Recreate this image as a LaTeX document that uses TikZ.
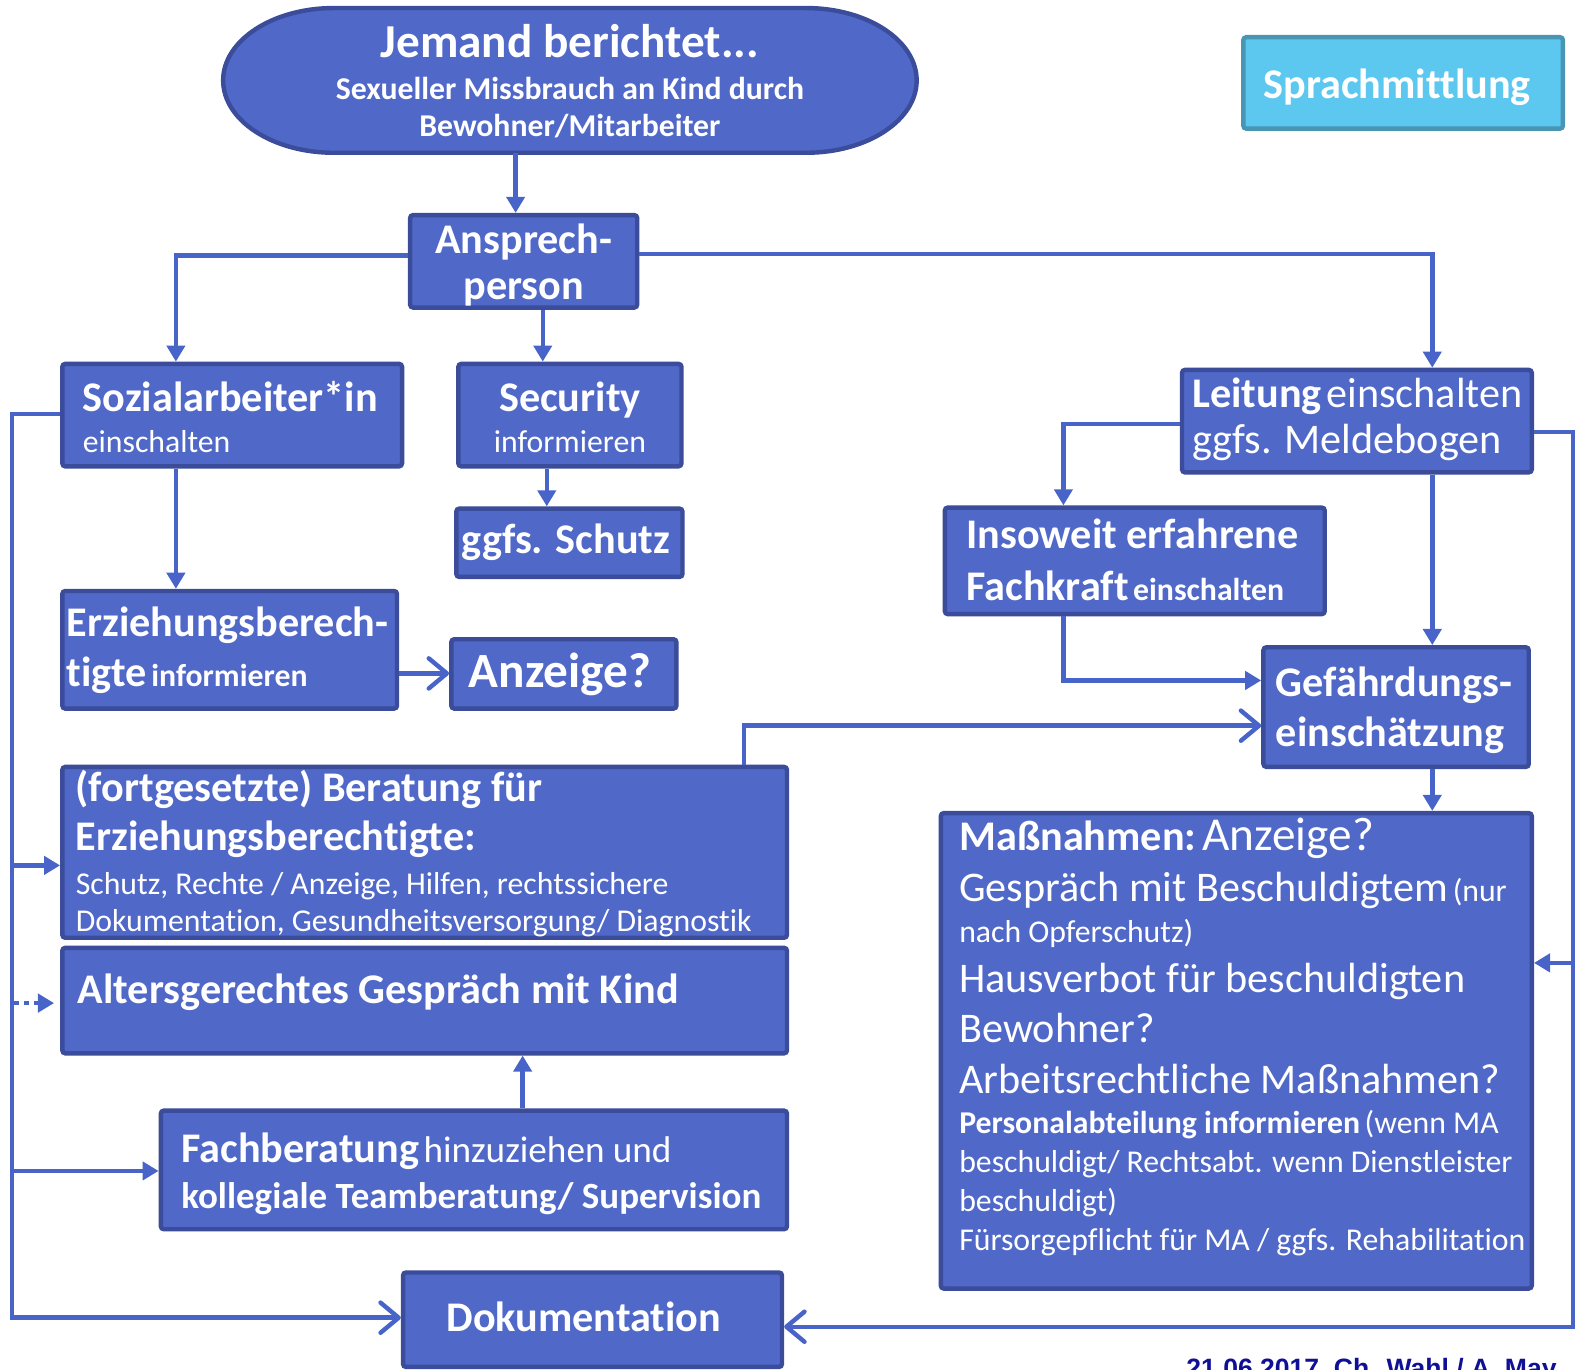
\documentclass[tikz,border=0pt]{standalone}
\usepackage{fontspec}
\setmainfont[Ligatures=NoCommon]{Carlito}
\newfontfamily\arialfont{Liberation Sans}
\usetikzlibrary{arrows.meta,fit,calc}
\definecolor{boxfill}{RGB}{80,104,200}
\definecolor{boxdraw}{RGB}{58,76,154}
\definecolor{conncol}{RGB}{72,100,200}
\definecolor{skyfill}{RGB}{92,200,240}
\definecolor{skydraw}{RGB}{72,150,180}
\definecolor{footcol}{RGB}{16,16,150}
\newcommand\FTb{\fontsize{21}{25}\selectfont\bfseries}
\newcommand\FTr{\fontsize{21}{25}\selectfont}
\newcommand\FSr{\fontsize{15.8}{19}\selectfont}
\newcommand\FSb{\fontsize{15.8}{19}\selectfont\bfseries}
\newcommand\FMr{\fontsize{18.5}{22}\selectfont}
\newcommand\FMb{\fontsize{18.4}{22}\selectfont\bfseries}
\begin{document}
\begin{tikzpicture}[x=0.5pt,y=-0.5pt,
  box/.style={draw=boxdraw, fill=boxfill, line width=2.2pt, inner sep=0pt, rectangle, rounded corners=1.5pt},
  conn/.style={draw=conncol, line width=2.2pt},
  tri/.style={-{Triangle[length=8pt,width=9pt]}},
  barb/.style={-{Straight Barb[length=9pt,width=15pt,round]}},
  txt/.style={inner sep=0pt, text=white, anchor=base west},
  ctxt/.style={inner sep=0pt, text=white, anchor=base}]
\fill[white] (0,0) rectangle (1568,1363);
\clip (0,0) rectangle (1568,1363);

% stadium
\node[inner sep=0pt, fit={(222,8)(912,152)}] (ell) {};
\draw[draw=boxdraw, fill=boxfill, line width=2.2pt]
  (332,8) -- (802,8) .. controls (862.75,8) and (912,40.2) .. (912,80)
  .. controls (912,119.8) and (862.75,152) .. (802,152) -- (332,152)
  .. controls (271.25,152) and (222,119.8) .. (222,80)
  .. controls (222,40.2) and (271.25,8) .. (332,8) -- cycle;

\node[box, draw=skydraw, fill=skyfill, fit={(1237,37)(1555,128)}] (spr) {};
\node[box, fit={(408,214)(634,306)}] (ans) {};
\node[box, fit={(62,362)(400,464)}] (soz) {};
\node[box, fit={(456,362)(678,464)}] (sec) {};
\node[box, fit={(454,506)(679,574)}] (sch) {};
\node[box, fit={(62,588)(395,705)}] (erz) {};
\node[box, fit={(449,636)(673,705)}] (anz) {};
\node[box, fit={(62,763)(783,933)}] (ber) {};
\node[box, fit={(62,943)(783,1048)}] (alt) {};
\node[box, fit={(160,1105)(783,1223)}] (fach) {};
\node[box, fit={(401,1266)(778,1360)}] (dok) {};
\node[box, fit={(1176,368)(1524,470)}] (lei) {};
\node[box, fit={(940,505)(1318,611)}] (ins) {};
\node[box, fit={(1257,644)(1521,763)}] (gef) {};
\node[box, fit={(936,809)(1524,1282)}] (mas) {};

% texts
\node[ctxt, font=\fontsize{23.5}{28}\selectfont\bfseries] (t1) at (567,57) {Jemand berichtet...};
\node[ctxt, font=\FSb] (t2) at (567,99) {Sexueller Missbrauch an Kind durch};
\node[ctxt, font=\FSb] (t3) at (567,136) {Bewohner/Mitarbeiter};
\node[ctxt, font=\FTb] (t4) at (1390,98) {Sprachmittlung};
\node[ctxt, font=\FTb] (t5) at (521,252) {Ansprech-};
\node[ctxt, font=\FTb] (t6) at (521,298) {person};
\node[txt, font=\FTb] (t7) at (82,409) {Sozialarbeiter*in};
\node[txt, font=\FSr] (t8) at (82,450) {einschalten};
\node[ctxt, font=\FTb] (t9) at (567,409) {Security};
\node[ctxt, font=\FSr] (t10) at (567,450) {informieren};
\node[txt, font=\FTb] (t11) at (459,551) {ggfs. Schutz};
\node[txt, font=\FTb] (t12) at (66,633) {Erziehungsberech-};
\node[txt] (t13) at (66,683) {{\FTb tigte} {\FSb informieren}};
\node[txt, font=\fontsize{24.5}{29}\selectfont\bfseries] (t14) at (466,684) {Anzeige?};
\node[txt, font=\FTb] (t15) at (75,797) {(fortgesetzte) Beratung für};
\node[txt, font=\FTb] (t16) at (75,846) {Erziehungsberechtigte:};
\node[txt, font=\FSr] (t17) at (75,890) {Schutz, Rechte / Anzeige, Hilfen, rechtssichere};
\node[txt, font=\FSr] (t18) at (75,927) {Dokumentation, Gesundheitsversorgung/ Diagnostik};
\node[txt, font=\FTb] (t19) at (77,998) {Altersgerechtes Gespräch mit Kind};
\node[txt] (t20) at (180,1157) {{\FTb Fachberatung} {\FMr hinzuziehen und}};
\node[txt, font=\FMb] (t21) at (180,1202) {kollegiale Teamberatung/ Supervision};
\node[ctxt, font=\FTb] (t22) at (581,1325) {Dokumentation};
\node[txt] (t23) at (1186,405) {{\FTb Leitung} {\FTr einschalten}};
\node[txt, font=\FTr] (t24) at (1186,451) {ggfs. Meldebogen};
\node[txt, font=\FTb] (t25) at (961,546) {Insoweit erfahrene};
\node[txt] (t26) at (961,597) {{\FTb Fachkraft} {\FSb einschalten}};
\node[txt, font=\FTb] (t27) at (1269,693) {Gefährdungs-};
\node[txt, font=\FTb] (t28) at (1269,743) {einschätzung};
\node[txt] (t29) at (954,846) {{\FTb Maßnahmen:} {\fontsize{23.5}{28}\selectfont Anzeige?}};
\node[txt] (t30) at (954,897) {{\FTr Gespräch mit Beschuldigtem} {\FSr (nur}};
\node[txt, font=\FSr] (t31) at (954,938) {nach Opferschutz)};
\node[txt, font=\FTr] (t32) at (954,987) {Hausverbot für beschuldigten};
\node[txt, font=\FTr] (t33) at (954,1037) {Bewohner?};
\node[txt, font=\FTr] (t34) at (954,1088) {Arbeitsrechtliche Maßnahmen?};
\node[txt] (t35) at (954,1128) {{\FSb Personalabteilung informieren} {\FSr (wenn MA}};
\node[txt, font=\FSr] (t36) at (954,1167) {beschuldigt/ Rechtsabt. wenn Dienstleister};
\node[txt, font=\FSr] (t37) at (954,1205) {beschuldigt)};
\node[txt, font=\FSr] (t38) at (954,1244) {Fürsorgepflicht für MA / ggfs. Rehabilitation};
\node[inner sep=0pt, anchor=base west, text=footcol, font=\arialfont\fontsize{13.2}{16}\selectfont\bfseries] (foot) at (1180,1370) {21.06.2017, Ch. Wahl / A. May};

% connectors
\draw[conn,tri] (ell.south -| 513,0) -- (ans.north -| 513,0);
\draw[conn,tri] (ans.west |- 0,254) -| (soz.north -| 175,0);
\draw[conn,tri] (ans.south -| 540,0) -- (sec.north -| 540,0);
\draw[conn,tri] (ans.east |- 0,253) -| (lei.north -| 1425,0);
\draw[conn,tri] (sec.south -| 544,0) -- (sch.north -| 544,0);
\draw[conn,tri] (soz.south -| 175,0) -- (erz.north -| 175,0);
\draw[conn,barb] (erz.east |- 0,670) -- (anz.west |- 0,670);
\coordinate (L1) at (12,412);
\coordinate (L2) at (12,1311);
\draw[conn,barb] (soz.west |- L1) -- (L1) -- (L2) -- (dok.west |- L2);
\coordinate (L3) at (12,861);
\coordinate (L4) at (12,1165);
\coordinate (L5) at (14,998);
\draw[conn,tri] (L3) -- (ber.west |- L3);
\draw[conn,tri] (L4) -- (fach.west |- L4);
\draw[conn,tri,dash pattern=on 2.5pt off 2.5pt, shorten >=3pt] (L5) -- (alt.west |- L5);
\draw[conn,barb] (ber.north -| 740,0) |- (gef.west |- 0,722);
\draw[conn,tri] (fach.north -| 520,0) -- (alt.south -| 520,0);
\draw[conn,tri] (lei.west |- 0,422) -| (ins.north -| 1058,0);
\draw[conn,tri] (lei.south -| 1425,0) -- (gef.north -| 1425,0);
\draw[conn,tri] (ins.south -| 1058,0) |- (gef.west |- 0,677);
\draw[conn,tri] (gef.south -| 1425,0) -- (mas.north -| 1425,0);
\coordinate (R1) at (1565,430);
\coordinate (R2) at (1565,1320);
\coordinate (R3) at (1565,958);
\draw[conn,barb] (lei.east |- R1) -- (R1) -- (R2) -- (dok.east |- R2);
\draw[conn,tri] (R3) -- (mas.east |- R3);
\end{tikzpicture}
\end{document}
